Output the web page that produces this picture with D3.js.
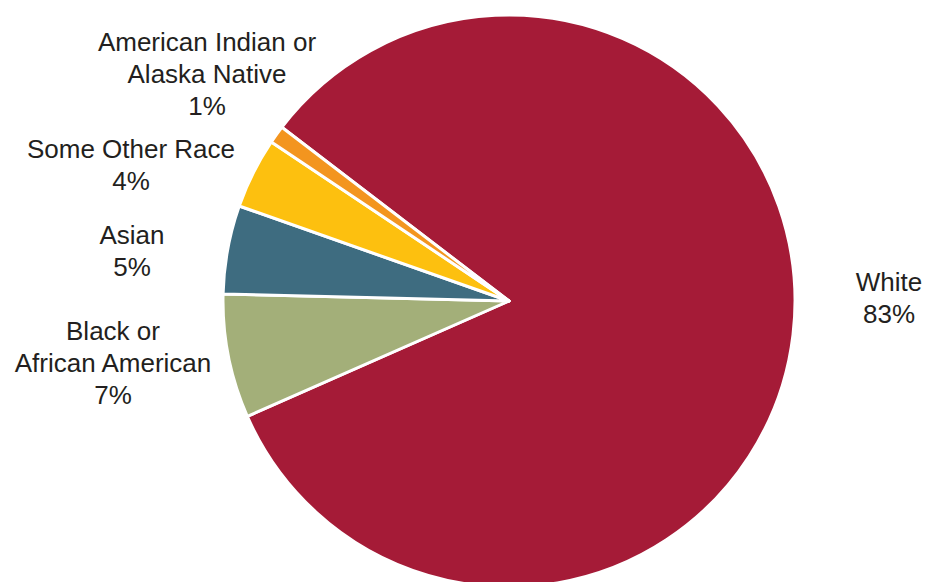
<!DOCTYPE html>
<html>
<head>
<meta charset="utf-8">
<script src="https://cdn.jsdelivr.net/npm/d3@7"></script>
<style>
  html, body { margin: 0; padding: 0; background: #fff; }
  svg { display: block; }
  text { font-family: "Liberation Sans", Arial, Helvetica, sans-serif; fill: #231f20; }
</style>
</head>
<body>
<svg id="chart" width="925" height="582"></svg>
<script>
// Population share by race (percent)
const categories = ["White", "Black or African American", "Asian", "Some Other Race", "American Indian or Alaska Native"];
const values = [83, 7, 5, 4, 1];
const colors = ["#a51b37", "#a3af79", "#3e6c80", "#fdc00f", "#f3951f"];
// Label lines as printed next to each slice
const labelLines = [
  ["White", "83%"],
  ["Black or", "African American", "7%"],
  ["Asian", "5%"],
  ["Some Other Race", "4%"],
  ["American Indian or", "Alaska Native", "1%"]
];

const svg = d3.select("#chart");
const cx = 509, cy = 301, r = 286;

const start = -52.6 * Math.PI / 180;
const pie = d3.pie().sort(null).value(d => d.value)
  .startAngle(start).endAngle(start + 2 * Math.PI);
const data = categories.map((c, i) => ({ name: c, value: values[i], color: colors[i], lines: labelLines[i] }));
const arcs = pie(data);
const arc = d3.arc().innerRadius(0).outerRadius(r);

const g = svg.append("g").attr("transform", `translate(${cx},${cy})`);
g.selectAll("path").data(arcs).join("path")
  .attr("d", arc)
  .attr("fill", d => d.data.color)
  .attr("stroke", "#fff")
  .attr("stroke-width", 3)
  .attr("stroke-linejoin", "round");

// Label anchor positions (center x, first baseline) per category
const labelPos = {
  "White": [889, 291],
  "Black or African American": [113, 340],
  "Asian": [132, 244],
  "Some Other Race": [131, 158],
  "American Indian or Alaska Native": [207, 51]
};
const lineH = 32;
const labels = svg.append("g").selectAll("text").data(data).join("text")
  .attr("text-anchor", "middle")
  .attr("font-size", 26)
  .attr("x", d => labelPos[d.name][0])
  .attr("y", d => labelPos[d.name][1]);
labels.selectAll("tspan").data(d => d.lines.map(l => ({ l, x: labelPos[d.name][0] }))).join("tspan")
  .attr("x", t => t.x)
  .attr("dy", (t, i) => i === 0 ? 0 : lineH)
  .text(t => t.l);
</script>
</body>
</html>
